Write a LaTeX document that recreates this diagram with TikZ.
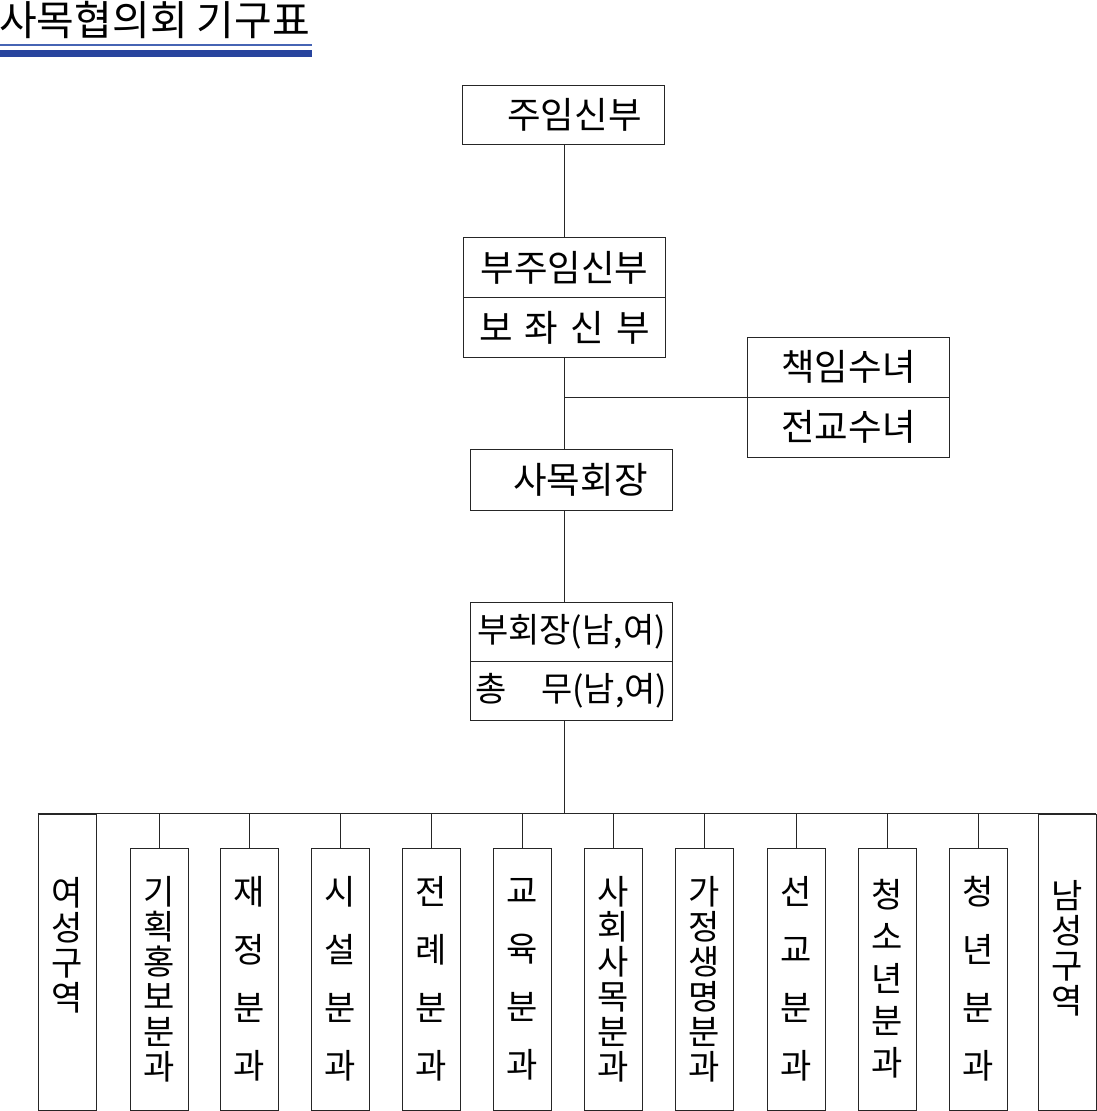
\documentclass[tikz,border=0pt]{standalone}
\usepackage{fontspec}
\setmainfont{Noto Sans CJK KR}
\definecolor{rulethin}{RGB}{70,100,180}
\definecolor{rulethick}{RGB}{40,68,158}
\begin{document}
\begin{tikzpicture}[x=1pt,y=-1pt,
  ln/.style={line width=0.9pt, draw=black!85},
  hbox/.style={ln, minimum width=202pt, minimum height=60pt, inner sep=0pt, font=\fontsize{36.5}{40}\selectfont},
  colbox/.style={ln, minimum width=58pt, minimum height=262pt, inner sep=0pt, align=center},
  sidebox/.style={ln, minimum width=58pt, minimum height=296pt, inner sep=0pt},
  four/.style={font=\fontsize{34}{58}\selectfont},
  five/.style={font=\fontsize{34}{42}\selectfont},
  six/.style={font=\fontsize{34}{35}\selectfont},
  vlab/.style={align=center, inner sep=0pt, font=\fontsize{34}{35}\selectfont}
]
\useasboundingbox (0,0) rectangle (1097,1111);

% title
\node[anchor=west, inner sep=0pt, font=\fontsize{41}{44}\selectfont] (title) at (-1,20) {사목협의회 기구표};
\fill[rulethin] (0,44.3) rectangle (312,46.3);
\fill[rulethick] (0,50.3) rectangle (312,56.7);

% upper hierarchy
\node[hbox, minimum height=59pt] (jm) at (563.5,115) {\hspace*{22pt}주임신부};
\node[hbox] (bj1) at (564.5,267.5) {부주임신부};
\node[hbox] (bj2) at (564.5,327.5) {보\hspace{12pt}좌\hspace{12pt}신\hspace{12pt}부};
\node[hbox] (sn1) at (848.5,367) {책임수녀};
\node[hbox] (sn2) at (848.5,427) {전교수녀};
\node[hbox, minimum height=61pt] (hj) at (571.5,479.5) {\hspace*{18pt}사목회장};
\node[hbox, minimum height=59pt, font=\fontsize{34}{40}\selectfont] (bh1) at (571.5,631.5) {부회장(남,여)};
\node[hbox, minimum height=59pt, font=\fontsize{34}{40}\selectfont] (bh2) at (571.5,690.5) {총\hspace{1em}무(남,여)};

\coordinate (bus) at (564.5,814);

\draw[ln] (jm.south -| bj1.north) -- (bj1.north);
\draw[ln] (bj2.south) -- (bj2.south |- hj.north);
\draw[ln] (bj2.south |- sn1.south) -- (sn1.south west);
\draw[ln] (bj2.south |- hj.south) -- (bj2.south |- bh1.north);
\draw[ln] (bj2.south |- bh2.south) -- (bus);

% bottom row
\node[sidebox, label={[vlab, yshift=17pt]center:여\\성\\구\\역}] (ys) at (67,962) {};
\node[sidebox, label={[vlab, yshift=14pt]center:남\\성\\구\\역}] (ns) at (1067,962) {};

\node[colbox, six]  (c1)  at (159,979) {기\\획\\홍\\보\\분\\과};
\node[colbox, four] (c2)  at (249,979) {재\\정\\분\\과};
\node[colbox, four] (c3)  at (340,979) {시\\설\\분\\과};
\node[colbox, four] (c4)  at (431.5,979) {전\\례\\분\\과};
\node[colbox, four] (c5)  at (522.5,979) {교\\육\\분\\과};
\node[colbox, six]  (c6)  at (613.5,979) {사\\회\\사\\목\\분\\과};
\node[colbox, six]  (c7)  at (704.5,979) {가\\정\\생\\명\\분\\과};
\node[colbox, four] (c8)  at (796,979) {선\\교\\분\\과};
\node[colbox, five] (c9)  at (887,979) {청\\소\\년\\분\\과};
\node[colbox, four] (c10) at (978,979) {청\\년\\분\\과};

\draw[ln] (ys.north west) -- (ns.north east);
\foreach \n in {c1,c2,c3,c4,c5,c6,c7,c8,c9,c10}
  \draw[ln] (\n.north |- bus) -- (\n.north);
\end{tikzpicture}
\end{document}
